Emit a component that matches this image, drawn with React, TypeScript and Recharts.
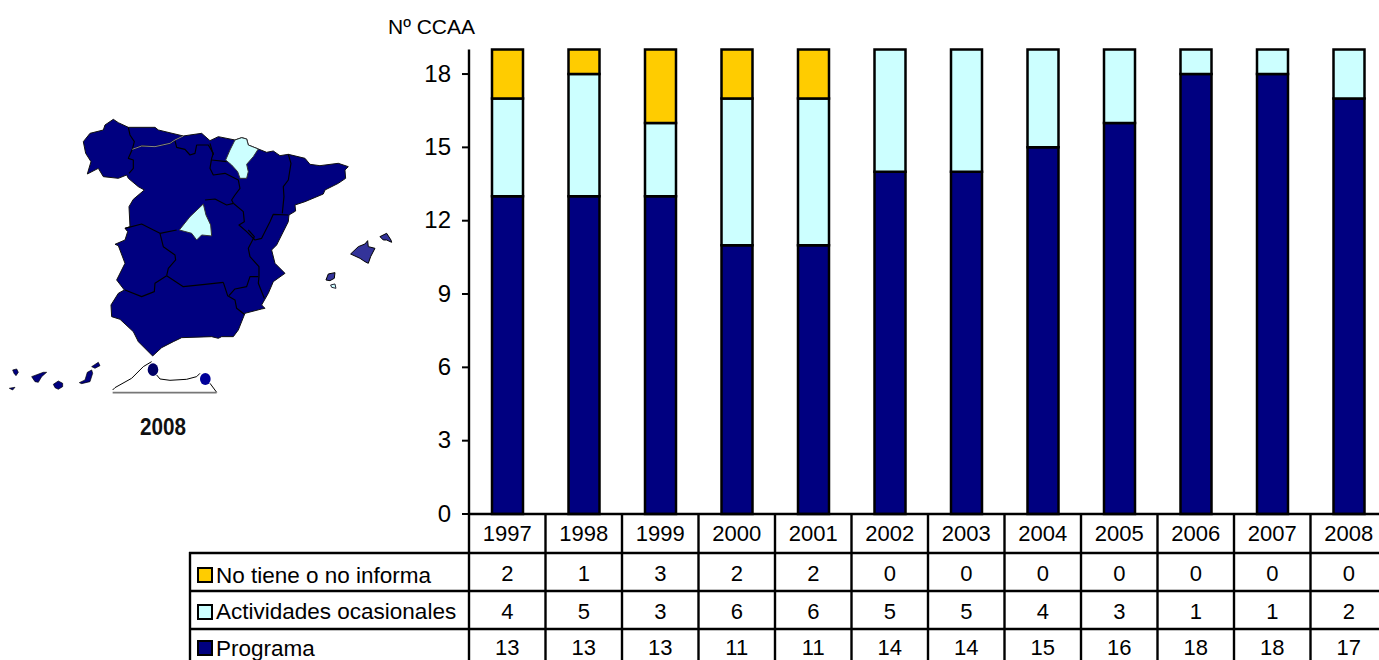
import React from 'react';
import { BarChart, Bar, XAxis, YAxis } from 'recharts';

const years = ['1997', '1998', '1999', '2000', '2001', '2002', '2003', '2004', '2005', '2006', '2007', '2008'];
const noTiene = [2, 1, 3, 2, 2, 0, 0, 0, 0, 0, 0, 0];
const actividades = [4, 5, 3, 6, 6, 5, 5, 4, 3, 1, 1, 2];
const programa = [13, 13, 13, 11, 11, 14, 14, 15, 16, 18, 18, 17];
const yTicks = [0, 3, 6, 9, 12, 15, 18];

const NAVY = '#000080';
const CYAN = '#CCFFFF';
const GOLD = '#FFCC00';
const FONT = '"Liberation Sans", Arial, sans-serif';

const rows = [
  { label: 'No tiene o no informa', color: GOLD, values: noTiene },
  { label: 'Actividades ocasionales', color: CYAN, values: actividades },
  { label: 'Programa', color: NAVY, values: programa },
];

// table layout, row by row
const rowTops = [553, 591, 629, 667];
const cellBaselines = [581, 619, 655];
const labelBaselines = [583, 619, 656];
const swatchTops = [568, 605, 641];
const AXIS_Y = 514;
const TABLE_LEFT = 190;
const PLOT_LEFT = 469;
const COL_W = 76.5;
const LINE = 2.4;

const data = years.map((year, i) => ({
  year,
  programa: programa[i],
  actividades: actividades[i],
  noTiene: noTiene[i],
}));

// year header plus the three value cells hang under each category
const TableTick = (props: any) => {
  const { x, payload, index } = props;
  return (
    <g fontFamily={FONT} fontSize={22} fill="#000" textAnchor="middle">
      <line x1={x + COL_W / 2} x2={x + COL_W / 2} y1={AXIS_Y} y2={700} stroke="#000" strokeWidth={LINE} />
      <text x={x} y={541} fill="#000">{payload.value}</text>
      {rows.map((row, i) => (
        <text key={row.label} x={x} y={cellBaselines[i]} fill="#000">{row.values[index]}</text>
      ))}
    </g>
  );
};

const TableFrame = () => (
  <g fontFamily={FONT}>
    <line x1={TABLE_LEFT} x2={TABLE_LEFT} y1={552} y2={700} stroke="#000" strokeWidth={LINE} />
    <line x1={PLOT_LEFT} x2={PLOT_LEFT} y1={AXIS_Y} y2={700} stroke="#000" strokeWidth={LINE} />
    {rowTops.map((top) => (
      <line key={top} x1={TABLE_LEFT - 1} x2={1400} y1={top} y2={top} stroke="#000" strokeWidth={LINE} />
    ))}
    {rows.map((row, i) => (
      <g key={row.label}>
        <rect x={198} y={swatchTops[i]} width={14} height={14} fill={row.color} stroke="#000" strokeWidth={2} />
        <text x={216} y={labelBaselines[i]} fontSize={22.5} fill="#000">{row.label}</text>
      </g>
    ))}
    <text x={388} y={34} fontSize={21} fill="#000">Nº CCAA</text>
  </g>
);

// map, in 3x units
const land = 'M250,125 L270,100 310,90 315,75 340,58 355,68 385,82 465,82 475,90 550,108 570,105 605,100 630,122 655,110 705,120 725,113 740,117 745,135 775,147 800,157 820,153 840,167 865,163 915,175 930,193 960,197 1015,190 1045,200 1035,210 1037,235 1015,250 975,270 970,282 915,305 885,315 887,333 867,345 865,365 830,435 815,450 825,490 855,520 820,545 805,580 785,615 795,625 785,627 735,640 715,690 700,710 665,710 655,715 635,710 545,713 520,725 485,743 458,768 415,725 400,695 360,658 335,650 333,615 355,580 373,570 350,540 375,490 355,437 345,433 375,420 383,395 375,385 390,380 387,320 400,298 433,270 415,260 385,235 380,225 355,235 310,230 295,205 262,222 273,185 257,160 Z';
const borders = [
  'M385,82 L390,105 403,125 397,148 385,175 400,180 400,205 387,220',
  'M525,122 L530,142 555,148 570,165 585,160 590,135 625,135 640,160 635,175 630,205 640,225 675,220 715,240 720,265 705,285 695,300 700,310',
  'M630,130 L640,165',
  'M635,180 L680,185',
  'M615,300 L645,297 680,315 700,310',
  'M700,310 L730,335 733,365 717,375 740,395 765,420 785,415 810,365 820,343 865,345',
  'M865,163 L873,190 865,240 850,260 852,290 847,340',
  'M745,390 L763,410 745,445 750,470 777,500 777,530 775,550 793,595',
  'M670,547 L683,587 705,600 710,625 733,643',
  'M687,587 L705,567 740,560 750,530 775,530',
  'M500,527 L550,560 615,553 670,547',
  'M500,527 L465,550 463,575 425,590 375,570',
  'M480,400 L490,440 525,465 527,480 505,505 500,527',
  'M375,385 L425,372 450,385 480,400 530,390',
];
const lightBorder = 'M397,148 L425,138 465,140 510,130 525,120 550,108';
const highlighted = [
  'M725,113 L740,117 745,135 775,147 760,170 740,193 745,215 740,235 720,235 713,215 695,195 677,180 690,150 705,120 Z',
  'M610,312 L618,345 632,375 635,408 605,405 590,420 575,400 538,390 570,350 Z',
];
const baleares = [
  'M1052,462 L1075,440 1095,432 1103,422 1105,440 1125,445 1112,470 1105,490 1095,485 1080,475 Z',
  'M1140,410 L1160,400 1173,420 1175,427 1160,420 1150,420 Z',
  'M985,522 L1005,518 1003,535 990,542 978,540 Z',
];
const canarias = [
  'M38,45 L50,42 55,52 48,62 42,55 Z',
  'M95,65 L130,52 140,52 125,65 115,82 105,80 Z',
  'M160,88 L175,78 188,85 188,95 175,103 165,98 Z',
  'M238,83 L255,75 262,52 275,45 278,55 270,80 245,86 Z',
  'M275,35 L295,22 300,32 285,40 Z',
  'M28,100 L45,97 38,105 Z',
];
const africa = [
  'M338,105 L345,98 395,70 430,35 455,20',
  'M470,60 L480,72 510,76 560,73 590,65 600,55',
  'M630,85 L650,112',
];

const SpainMap = () => (
  <svg width={420} height={350} style={{ position: 'absolute', left: 0, top: 100 }}>
    <g transform="scale(0.3333)">
      <path d={land} fill={NAVY} stroke="#111" strokeWidth={3} strokeLinejoin="round" />
      {borders.map((d) => (
        <path key={d} d={d} fill="none" stroke="#000" strokeWidth={3.5} strokeLinejoin="round" />
      ))}
      <path d={lightBorder} fill="none" stroke="#000" strokeWidth={4} />
      <path d={lightBorder} fill="none" stroke="#ccc" strokeWidth={2} />
      {highlighted.map((d) => (
        <path key={d} d={d} fill={CYAN} stroke="#333" strokeWidth={3} />
      ))}
      {baleares.map((d) => (
        <path key={d} d={d} fill="#333399" stroke="#000" strokeWidth={3} />
      ))}
      <path d="M992,555 L1005,552 1008,565 995,562 Z" fill={CYAN} stroke="#223" strokeWidth={3} />
      <g transform="translate(0,765)">
        {canarias.map((d) => (
          <path key={d} d={d} fill={NAVY} stroke="#000" strokeWidth={2} />
        ))}
        {africa.map((d) => (
          <path key={d} d={d} fill="none" stroke="#000" strokeWidth={3} />
        ))}
        <line x1={338} x2={650} y1={113} y2={113} stroke="#777" strokeWidth={5} />
        <ellipse cx={459} cy={44} rx={16} ry={19} fill="#000066" />
        <ellipse cx={616} cy={72} rx={16} ry={18} fill="#000099" />
      </g>
    </g>
    <text x={163} y={335} textAnchor="middle" fontFamily={FONT} fontSize={23} fontWeight="bold" textLength={46} lengthAdjust="spacingAndGlyphs" fill="#111">2008</text>
  </svg>
);

const App = () => {
  return (
    <div style={{ position: 'absolute', left: 0, top: 0, width: 1379, height: 660, overflow: 'hidden', background: '#fff' }}>
      <SpainMap />
      <BarChart
        width={1400}
        height={700}
        data={data}
        margin={{ top: 49.6, right: 13, left: 0, bottom: 0 }}
        barCategoryGap="0%"
        style={{ position: 'absolute', left: 0, top: 0 }}
      >
        <XAxis
          dataKey="year"
          interval={0}
          height={186}
          tickLine={false}
          axisLine={{ stroke: '#000', strokeWidth: LINE }}
          tick={<TableTick />}
        />
        <YAxis
          width={PLOT_LEFT}
          domain={[0, 19]}
          ticks={yTicks}
          interval={0}
          tickSize={7}
          tickMargin={11}
          tickLine={{ stroke: '#000', strokeWidth: 2 }}
          axisLine={{ stroke: '#000', strokeWidth: LINE }}
          tick={{ fontSize: 24, fill: '#000', fontFamily: FONT, dy: -1 }}
        />
        <Bar dataKey="programa" stackId="a" fill={NAVY} stroke="#000" strokeWidth={2.5} barSize={31} isAnimationActive={false} />
        <Bar dataKey="actividades" stackId="a" fill={CYAN} stroke="#000" strokeWidth={2.5} barSize={31} isAnimationActive={false} />
        <Bar dataKey="noTiene" stackId="a" fill={GOLD} stroke="#000" strokeWidth={2.5} barSize={31} isAnimationActive={false} />
        <TableFrame />
      </BarChart>
    </div>
  );
};

export default App;
